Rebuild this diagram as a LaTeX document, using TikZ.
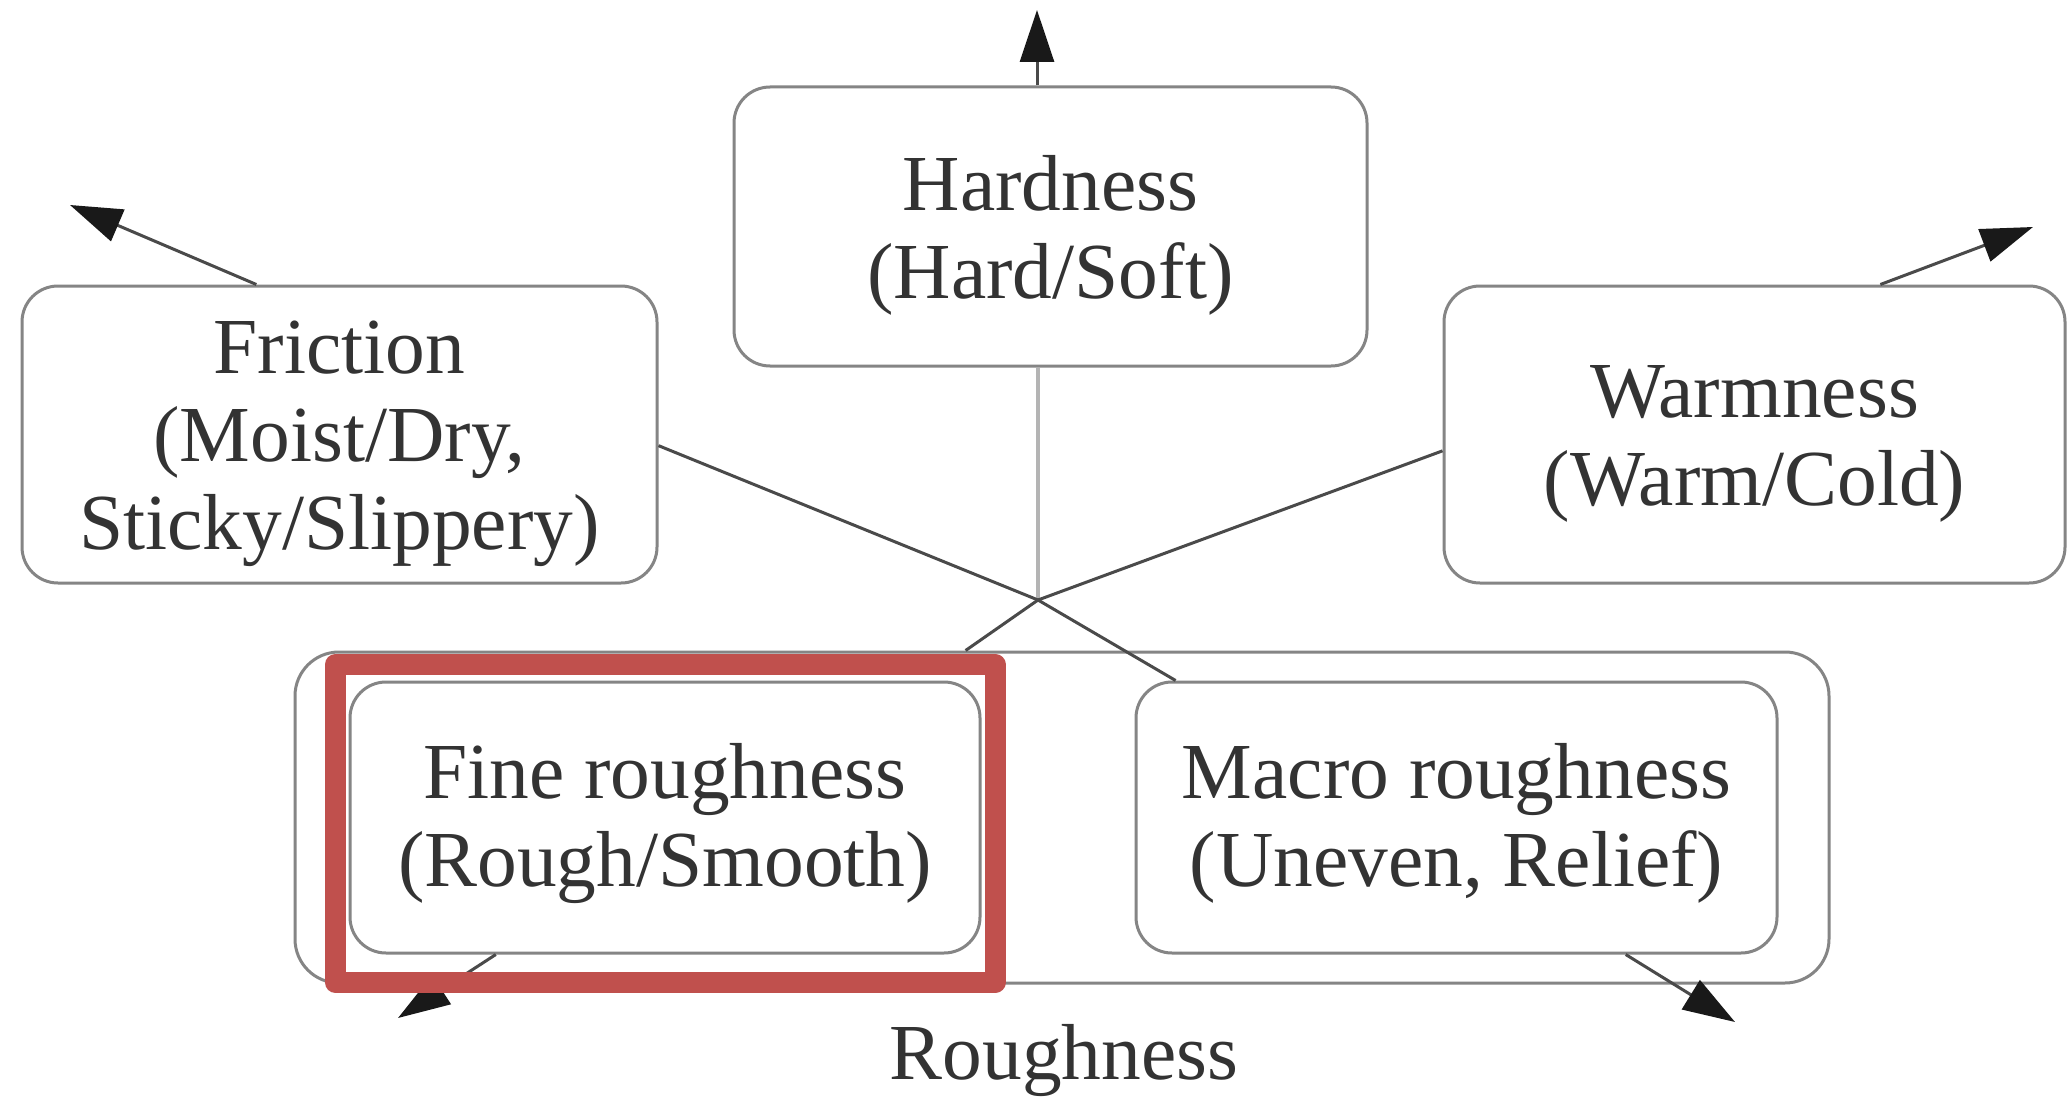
\documentclass[tikz,border=0pt]{standalone}
\usepackage{fontspec}
\setmainfont{Liberation Serif}
\usetikzlibrary{arrows.meta}
\definecolor{boxgray}{HTML}{858585}
\definecolor{linegray}{HTML}{4A4A4A}
\definecolor{vgray}{HTML}{B4B4B4}
\definecolor{txt}{HTML}{333333}
\definecolor{hlred}{HTML}{C0504D}
\begin{document}
\begin{tikzpicture}[x=0.5pt,y=-0.5pt,
  boxnode/.style={draw=boxgray, line width=1.5pt, rounded corners=18pt, inner sep=0pt},
  boxtext/.style={text=txt, font=\fontsize{39.7}{44}\selectfont, inner sep=0pt,
    align=center, yshift=-4.5pt},
  labnode/.style={text=txt, font=\fontsize{39.7}{44}\selectfont, inner sep=0pt},
  link/.style={draw=linegray, line width=1.5pt},
  vlink/.style={draw=vgray, line width=1.6pt},
  arr/.style={draw=linegray, line width=1.5pt, -{Triangle[length=26pt,width=17pt,color=black!90]}},
  hlbox/.style={draw=hlred, line width=10.5pt, line join=round, inner sep=0pt}]
\useasboundingbox (0,0) rectangle (2067,1097);
\fill[white] (0,0) rectangle (2067,1097);

% nodes
\node[boxnode, minimum width=316.5pt, minimum height=139.5pt,
  label={[boxtext]center:{Hardness\\(Hard/Soft)}}] (hard) at (1050.5,226.5) {};
\node[boxnode, minimum width=317.5pt, minimum height=148.5pt,
  label={[boxtext]center:{Friction\\(Moist/Dry,\\Sticky/Slippery)}}] (fric) at (339.5,434.5) {};
\node[boxnode, minimum width=310.5pt, minimum height=148.5pt,
  label={[boxtext]center:{Warmness\\(Warm/Cold)}}] (warm) at (1754.5,434.5) {};
\node[boxnode, rounded corners=22pt, minimum width=767pt, minimum height=165.5pt] (outer) at (1062,817.5) {};
\node[boxnode, minimum width=315pt, minimum height=135.5pt,
  label={[boxtext, yshift=1.5pt]center:{Fine roughness\\(Rough/Smooth)}}] (fine) at (665,817.5) {};
\node[boxnode, minimum width=320.5pt, minimum height=135.5pt,
  label={[boxtext, yshift=1.5pt]center:{Macro roughness\\(Uneven, Relief)}}] (macro) at (1456.5,817.5) {};
\node[labnode] (rlab) at (1064,1061) {Roughness};

% hub of the connectors
\coordinate (hub) at (1038,600);
\coordinate (hardtip) at (1037,10);
\coordinate (frictip) at (70,205);
\coordinate (warmtip) at (2033,227);
\coordinate (finetip) at (398,1018);
\coordinate (macrotip) at (1735,1022);

% connectors
\draw[vlink] (hard.south -| hub) -- (hub);
\draw[link] (fric.-2.07) -- (hub) -- (macro.154.5);
\draw[link] (warm.183) -- (hub) -- (outer.120.9);

% arrows
\draw[arr] (hard.north -| hardtip) -- (hardtip);
\draw[arr] (fric.119.05) -- (frictip);
\draw[arr] (warm.50.3) -- (warmtip);
\draw[arr] (fine.-141.8) -- (finetip);
\draw[arr] (macro.-39.4) -- (macrotip);

% highlight
\node[hlbox, minimum width=329.75pt, minimum height=159pt] (hl) at (665.25,823.5) {};
\end{tikzpicture}
\end{document}
